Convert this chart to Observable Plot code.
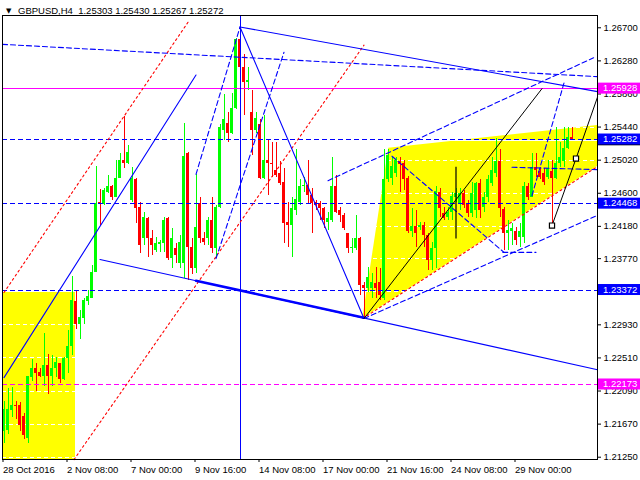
<!DOCTYPE html>
<html><head><meta charset="utf-8">
<script src="https://cdn.jsdelivr.net/npm/d3@7"></script>
<script src="https://cdn.jsdelivr.net/npm/@observablehq/plot@0.6"></script>
<style>body{margin:0;background:#fff}</style>
</head><body><div id="chart"></div>
<script>
const opens=[1.2158,1.2159,1.2184,1.2191,1.2190,1.2177,1.2149,1.2226,1.2237,1.2232,
1.2228,1.2242,1.2228,1.2237,1.2244,1.2224,1.2250,1.2266,1.2322,1.2294,
1.2301,1.2322,1.2327,1.2359,1.2448,1.2446,1.2461,1.2469,1.2454,1.2479,
1.2501,1.2498,1.2451,1.2478,1.2442,1.2403,1.2428,1.2403,1.2387,1.2395,
1.2396,1.2428,1.2377,1.2390,1.2371,1.2371,1.2511,1.2391,1.2364,1.2447,
1.2403,1.2403,1.2426,1.2390,1.2442,1.2540,1.2549,1.2536,1.2568,1.2655,
1.2620,1.2600,1.2563,1.2540,1.2547,1.2479,1.2502,1.2498,1.2489,1.2485,
1.2474,1.2423,1.2419,1.2438,1.2448,1.2468,1.2470,1.2457,1.2448,1.2447,
1.2441,1.2423,1.2426,1.2469,1.2438,1.2432,1.2409,1.2390,1.2390,1.2403,
1.2343,1.2339,1.2339,1.2346,1.2347,1.2327,1.2477,1.2479,1.2485,1.2500,
1.2498,1.2479,1.2411,1.2418,1.2417,1.2419,1.2406,1.2375,1.2390,1.2461,
1.2434,1.2429,1.2436,1.2455,1.2447,1.2460,1.2447,1.2434,1.2438,1.2473,
1.2442,1.2455,1.2473,1.2485,1.2500,1.2440,1.2409,1.2411,1.2411,1.2404,
1.2404,1.2468,1.2455,1.2493,1.2487,1.2485,1.2480,1.2487,1.2479,1.2498,
1.2500,1.2517,1.25303];
const highs=[1.2196,1.2212,1.2214,1.2196,1.2194,1.2181,1.2228,1.2249,1.2244,1.2237,
1.2282,1.2255,1.2254,1.2251,1.2244,1.2251,1.2286,1.2354,1.2336,1.2311,
1.2326,1.2336,1.2368,1.2494,1.2465,1.2466,1.2482,1.2470,1.2502,1.2511,
1.2557,1.2521,1.2493,1.2479,1.2448,1.2436,1.2429,1.2413,1.2404,1.2400,
1.2429,1.2429,1.2415,1.2396,1.2406,1.2548,1.2512,1.2403,1.2484,1.2454,
1.2410,1.2429,1.2455,1.2445,1.2547,1.2585,1.2562,1.2587,1.2657,1.2671,
1.2636,1.2619,1.2591,1.2562,1.2553,1.2559,1.2527,1.2524,1.2524,1.2500,
1.2492,1.2448,1.2454,1.2515,1.2477,1.2480,1.2502,1.2466,1.2451,1.2450,
1.2442,1.2436,1.2505,1.2483,1.2442,1.2434,1.2409,1.2403,1.2432,1.2404,
1.2347,1.2366,1.2358,1.2366,1.2364,1.2515,1.2515,1.2506,1.2506,1.2505,
1.2502,1.2481,1.2441,1.2438,1.2423,1.2423,1.2409,1.2398,1.2468,1.2466,
1.2442,1.2442,1.2461,1.2466,1.2466,1.2464,1.2451,1.2474,1.2474,1.2477,
1.2461,1.2483,1.2506,1.2530,1.2515,1.2442,1.2426,1.2421,1.2417,1.2421,
1.2474,1.2473,1.2511,1.2511,1.2493,1.2491,1.2502,1.2502,1.2543,1.2525,
1.2543,1.2543,1.25430];
const lows=[1.2142,1.2154,1.2175,1.2173,1.2158,1.2148,1.2142,1.2221,1.2208,1.2226,
1.2215,1.2205,1.2215,1.2226,1.2218,1.2222,1.2231,1.2254,1.2287,1.2275,
1.2294,1.2317,1.2327,1.2359,1.2419,1.2445,1.2460,1.2451,1.2454,1.2479,
1.2491,1.2496,1.2448,1.2422,1.2384,1.2394,1.2378,1.2381,1.2385,1.2385,
1.2385,1.2375,1.2364,1.2371,1.2364,1.2352,1.2349,1.2357,1.2358,1.2396,
1.2394,1.2394,1.2384,1.2377,1.2441,1.2527,1.2525,1.2534,1.2566,1.2559,
1.2559,1.2591,1.2508,1.2536,1.2477,1.2477,1.2457,1.2480,1.2480,1.2470,
1.2396,1.2391,1.2378,1.2432,1.2445,1.2461,1.2447,1.2409,1.2438,1.2426,
1.2415,1.2413,1.2423,1.2434,1.2423,1.2413,1.2384,1.2384,1.2387,1.2330,
1.2301,1.2334,1.2327,1.2326,1.2324,1.2324,1.2474,1.2470,1.2480,1.2461,
1.2464,1.2409,1.2404,1.2391,1.2413,1.2391,1.2362,1.2362,1.2364,1.2429,
1.2426,1.2426,1.2426,1.2448,1.2438,1.2441,1.2429,1.2429,1.2428,1.2428,
1.2436,1.2448,1.2468,1.2480,1.2429,1.2387,1.2387,1.2394,1.2394,1.2391,
1.2396,1.2451,1.2455,1.2480,1.2477,1.2470,1.2477,1.2422,1.2477,1.2493,
1.2493,1.2515,1.25267];
const closes=[1.2186,1.2186,1.2191,1.2189,1.2165,1.2152,1.2228,1.2238,1.2231,1.2228,
1.2242,1.2228,1.2237,1.2245,1.2224,1.2250,1.2266,1.2324,1.2294,1.2302,
1.2324,1.2329,1.2359,1.2447,1.2446,1.2464,1.2469,1.2454,1.2479,1.2501,
1.2498,1.2512,1.2479,1.2441,1.2394,1.2429,1.2403,1.2394,1.2396,1.2398,
1.2426,1.2377,1.2403,1.2381,1.2398,1.2507,1.2391,1.2364,1.2417,1.2403,
1.2398,1.2426,1.2390,1.2442,1.2543,1.2554,1.2536,1.2568,1.2655,1.2620,
1.2601,1.2603,1.2540,1.2555,1.2479,1.2502,1.2498,1.2496,1.2483,1.2473,
1.2422,1.2419,1.2441,1.2452,1.2469,1.2470,1.2457,1.2447,1.2445,1.2441,
1.2426,1.2428,1.2469,1.2436,1.2432,1.2415,1.2390,1.2391,1.2403,1.2343,
1.2339,1.2353,1.2347,1.2339,1.2330,1.2477,1.2508,1.2494,1.2502,1.2496,
1.2477,1.2411,1.2418,1.2409,1.2419,1.2406,1.2375,1.2390,1.2462,1.2441,
1.2428,1.2436,1.2456,1.2460,1.2460,1.2445,1.2434,1.2460,1.2473,1.2438,
1.2455,1.2477,1.2489,1.2500,1.2441,1.2409,1.2413,1.2415,1.2400,1.2411,
1.2468,1.2455,1.2493,1.2489,1.2480,1.2474,1.2492,1.2479,1.2498,1.2506,
1.2517,1.2531,1.25272];

const yTicks=[1.26700,1.26280,1.25860,1.25440,1.25020,1.24600,1.24180,1.23770,1.23350,1.22930,1.22510,1.22090,1.21670,1.21250];
const xTickBars=[0,16,32,48,64,80,96,112,128];
const xTickLabels=["28 Oct 2016","2 Nov 08:00","7 Nov 00:00","9 Nov 16:00","14 Nov 08:00","17 Nov 00:00","21 Nov 16:00","24 Nov 08:00","29 Nov 00:00"];
const header="GBPUSD,H4  1.25303 1.25430 1.25267 1.25272";

const blueLevels=[1.25282,1.24468,1.23372];
const magentaSolid=[1.25928];
const magentaDashed=[1.22173];
const bidPrice=1.25272;
const priceLabels=[
 {v:1.25928,bg:"#ff00ff",t:"1.25928"},
 {v:1.25272,bg:"#000000",t:"1.25272"},
 {v:1.25282,bg:"#0000ff",t:"1.25282"},
 {v:1.24468,bg:"#0000ff",t:"1.24468"},
 {v:1.23372,bg:"#0000ff",t:"1.23372"},
 {v:1.22173,bg:"#ff00ff",t:"1.22173"}];

const yellowRect=[{i1:-0.375,i2:17.9,p1:1.21221,p2:1.2334}];
const yellowTri=[{i:89.7,lo:1.2301,hi:1.2301},{i:96.2,lo:1.2322,hi:1.2517},{i:148.375,lo:1.2494,hi:1.2546}];
const redDotted=[
 {id:"A",pts:[[0,1.2334],[46,1.2677]]},
 {id:"B",pts:[[17.5,1.2122],[90,1.2648]]},
 {id:"C",pts:[[89.7,1.2301],[148.375,1.2494]]}];
const blueSolid=[
 {id:"R",pts:[[0,1.2226],[48,1.2610]]},
 {id:"S",pts:[[24,1.2376],[148.375,1.2236]]},
 {id:"V",pts:[[59,1.2671],[90,1.2301]]},
 {id:"T",pts:[[59,1.2671],[148.375,1.2589]]}];
const blueThick=[{id:"S2",pts:[[48,1.2349],[90,1.2302]]}];
const blueDashed=[
 {id:"D1",pts:[[48,1.2484],[59,1.2671]]},
 {id:"D2",pts:[[53,1.2377],[70,1.2639]]},
 {id:"G",pts:[[-0.375,1.2649],[148.375,1.2608]]},
 {id:"U1",pts:[[81,1.2476],[147.4,1.2632]]},
 {id:"L1",pts:[[90,1.2301],[148.375,1.2432]]},
 {id:"E",pts:[[132,1.2457],[140,1.2600]]},
 {id:"F",pts:[[97,1.2507],[125,1.2385]]},
 {id:"h1",pts:[[127,1.2493],[148.375,1.2490]]},
 {id:"h2",pts:[[124.7,1.2385],[133,1.2385]]}];
const blackLines=[
 {id:"K1",pts:[[90,1.2301],[134.5,1.25928]]},
 {id:"K2",pts:[[137,1.2419],[143,1.2504],[148.375,1.2582]]}];
const blackVert=[{i:113,p1:1.2493,p2:1.2402}];
const squares=[{i:137,p:1.2419},{i:143,p:1.2504}];
const peakBar=[59];

const candles=opens.map((o,i)=>{
  const c=closes[i];
  const up=c>=o;
  let b1=o,b2=c;
  if(Math.abs(b1-b2)<0.00013){const m=(o+c)/2;b1=m-0.000065;b2=m+0.000065;}
  return {i,o,c,b1,b2,h:Math.max(highs[i],o,c),l:Math.min(lows[i],o,c),col:up?"#00ff00":"#ff0000"};
});
const flat=arr=>arr.flatMap(d=>d.pts.map(([i,p])=>({id:d.id,i,p})));
const labelOf=new Map(xTickBars.map((v,k)=>[v,xTickLabels[k]]));
const font="'Liberation Sans', Arial, sans-serif";

const plot=Plot.plot({
  width:640,height:480,
  marginLeft:2,marginRight:43,marginTop:15,marginBottom:21,
  x:{domain:[-0.375,148.375]},
  y:{domain:[1.21221,1.26856]},
  style:{fontFamily:font,fontSize:"9.5px",background:"#fff",color:"#000",overflow:"visible"},
  marks:[
    Plot.rect(yellowRect,{x1:"i1",x2:"i2",y1:"p1",y2:"p2",fill:"#ffff00",shapeRendering:"crispEdges"}),
    Plot.areaY(yellowTri,{x:"i",y1:"lo",y2:"hi",fill:"#ffff00"}),
    Plot.ruleY(yTicks,{stroke:"#fff",strokeDasharray:"4,3",shapeRendering:"crispEdges"}),
    Plot.ruleY([bidPrice],{stroke:"#fff",shapeRendering:"crispEdges"}),
    Plot.ruleX(candles,{x:"i",y1:"l",y2:"h",stroke:"col",shapeRendering:"crispEdges"}),
    Plot.rect(candles,{x1:d=>d.i-0.375,x2:d=>d.i+0.375,y1:"b1",y2:"b2",fill:"col",shapeRendering:"crispEdges"}),
    Plot.ruleY(blueLevels,{stroke:"#0000ff",strokeDasharray:"5,3",shapeRendering:"crispEdges"}),
    Plot.ruleY(magentaSolid,{stroke:"#ff00ff",shapeRendering:"crispEdges"}),
    Plot.ruleY(magentaDashed,{stroke:"#ff00ff",strokeDasharray:"5,3",shapeRendering:"crispEdges"}),
    Plot.ruleX(peakBar,{stroke:"#0000ff",shapeRendering:"crispEdges"}),
    Plot.line(flat(redDotted),{x:"i",y:"p",z:"id",stroke:"#ff0000",strokeWidth:1.1,strokeDasharray:"2,3"}),
    Plot.line(flat(blueSolid),{x:"i",y:"p",z:"id",stroke:"#0000ff",strokeWidth:1.1}),
    Plot.line(flat(blueThick),{x:"i",y:"p",z:"id",stroke:"#0000ff",strokeWidth:2.6}),
    Plot.line(flat(blueDashed),{x:"i",y:"p",z:"id",stroke:"#0000ff",strokeWidth:1.1,strokeDasharray:"5,3"}),
    Plot.line(flat(blackLines),{x:"i",y:"p",z:"id",stroke:"#000",strokeWidth:1}),
    Plot.ruleX(blackVert,{x:"i",y1:"p1",y2:"p2",stroke:"#000",strokeWidth:1.2}),
    Plot.dot(squares,{x:"i",y:"p",symbol:"square",r:2.9,fill:"#fff",stroke:"#000",strokeWidth:1.2}),
    Plot.frame({stroke:"#000"}),
    Plot.axisY({anchor:"right",ticks:yTicks,tickFormat:d=>d.toFixed(5),tickSize:3,tickPadding:3,label:null}),
    Plot.axisX({anchor:"bottom",ticks:xTickBars,tickFormat:d=>labelOf.get(d),tickSize:3,tickPadding:4,textAnchor:"start",dx:-1,label:null})
  ]
});
document.getElementById("chart").appendChild(plot);

const svg=d3.select(plot);
const ys=plot.scale("y");
const g=svg.append("g").attr("font-family",font).attr("font-size","9.5px").attr("text-anchor","start");
priceLabels.forEach(d=>{
  const y=ys.apply(d.v);
  g.append("rect").attr("x",598).attr("y",y-5.5).attr("width",42).attr("height",11).attr("fill",d.bg);
  g.append("text").attr("x",603).attr("y",y).attr("dy","0.35em").attr("fill","#fff").text(d.t);
});
const hg=svg.append("g").attr("text-anchor","start");
hg.append("text").attr("x",6).attr("y",13).attr("font-size","7px").attr("font-family","'DejaVu Sans'").text("\u25BC");
hg.append("text").attr("x",18).attr("y",14).attr("font-family",font).attr("font-size","9.5px").style("white-space","pre").text(header);
</script></body></html>
